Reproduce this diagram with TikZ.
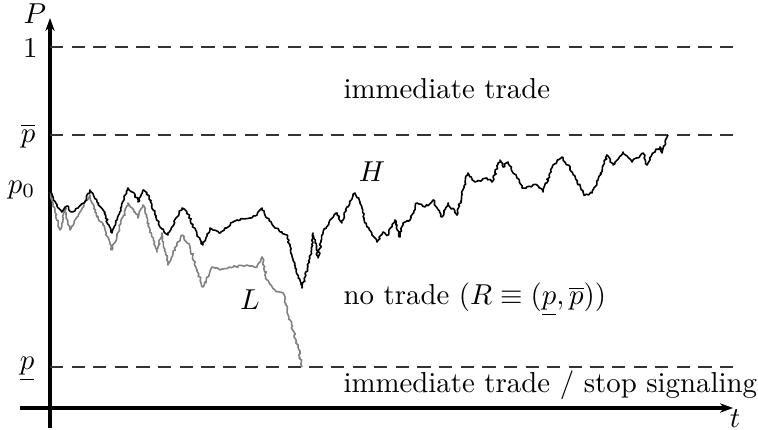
\documentclass[tikz,border=0pt]{standalone}
\usetikzlibrary{arrows.meta,decorations.pathmorphing}
\begin{document}
\begin{tikzpicture}[x=0.347pt,y=-0.347pt]
	\tikzstyle{axis} = [line width=1.1pt, -{Stealth[length=4.5pt,width=3.2pt]}]
	\tikzstyle{level} = [line width=0.45pt, black!80, dash pattern=on 4.6pt off 2.9pt]
	\tikzstyle{walk} = [line width=0.55pt, line join=round, decorate, decoration={random steps, segment length=0.7pt, amplitude=0.4pt}]
	\tikzstyle{tick} = [anchor=east, inner sep=0pt]
	\tikzstyle{region} = [anchor=base west, inner sep=0pt]
	\useasboundingbox (0,0) rectangle (758,430);
	\pgfmathsetseed{4}

	% Axes
	\coordinate (xstart) at (20,408);
	\coordinate (xend) at (733,408);
	\coordinate (ystart) at (50,428);
	\coordinate (yend) at (50,18);
	\draw[axis] (xstart) -- (xend);
	\draw[axis] (ystart) -- (yend);
	\node (P) at (35,14) {$P$};
	\node (t) at (735,419) {$t$};

	% Levels 1, upper and lower thresholds
	\coordinate (oneL) at (50,47);
	\coordinate (oneR) at (735,47);
	\coordinate (upL) at (50,135);
	\coordinate (upR) at (735,135);
	\coordinate (loL) at (50,367);
	\coordinate (loR) at (735,367);
	\draw[level] (oneL) -- (oneR);
	\draw[level] (upL) -- (upR);
	\draw[level] (loL) -- (loR);
	\node[tick] (one) at (38,48) {$1$};
	\node[tick] (pup) at (36,136) {$\overline{p}$};
	\node[tick] (p0) at (36,190) {$p_0$};
	\node[tick] (plo) at (35,369) {$\underline{p}$};

	% Sample paths of the belief
	\draw[walk, black!50] plot coordinates {(50,192) (55,210) (60,230) (65,207) (70,230) (80,212) (90,195) (95,212) (103,225) (112,250) (117,235) (128,203) (135,212) (138,218) (143,205) (150,230) (157,252) (162,233) (168,265) (177,245) (182,235) (190,247) (197,270) (203,287) (212,267) (220,270) (233,267) (247,265) (257,267) (262,257) (267,280) (275,290) (283,293) (290,320) (298,347) (302,367)};
	\draw[walk] plot coordinates {(50,192) (57,206) (62,212) (67,206) (72,212) (78,208) (84,203) (90,190) (97,202) (103,210) (112,233) (117,220) (128,188) (135,195) (138,202) (143,190) (147,193) (160,227) (168,235) (177,217) (182,208) (187,212) (197,235) (203,245) (210,228) (220,233) (225,228) (233,222) (240,220) (250,218) (257,215) (262,208) (267,218) (275,228) (282,232) (287,235) (295,268) (302,288) (310,258) (313,233) (318,258) (323,233) (330,220) (337,213) (342,223) (347,207) (355,193) (360,202) (367,227) (377,242) (383,232) (388,235) (395,220) (400,237) (403,223) (410,220) (417,203) (425,207) (433,200) (442,217) (448,203) (457,215) (465,182) (468,173) (475,182) (487,178) (492,182) (500,160) (503,167) (508,162) (517,178) (522,188) (537,185) (543,192) (553,165) (562,157) (570,168) (577,182) (585,195) (592,193) (598,180) (607,155) (613,165) (623,152) (632,162) (643,153) (647,165) (653,153) (660,147) (662,153) (668,135)};
	\node (H) at (372,172) {$H$};
	\node (L) at (250,300) {$L$};

	% Regions
	\node[region] (top) at (343,99) {immediate trade};
	\node[region] (mid) at (343,305) {no trade ($R \equiv (\underline{p},\overline{p})$)};
	\node[region] (bot) at (343,392) {immediate trade / stop signaling};
\end{tikzpicture}
\end{document}
